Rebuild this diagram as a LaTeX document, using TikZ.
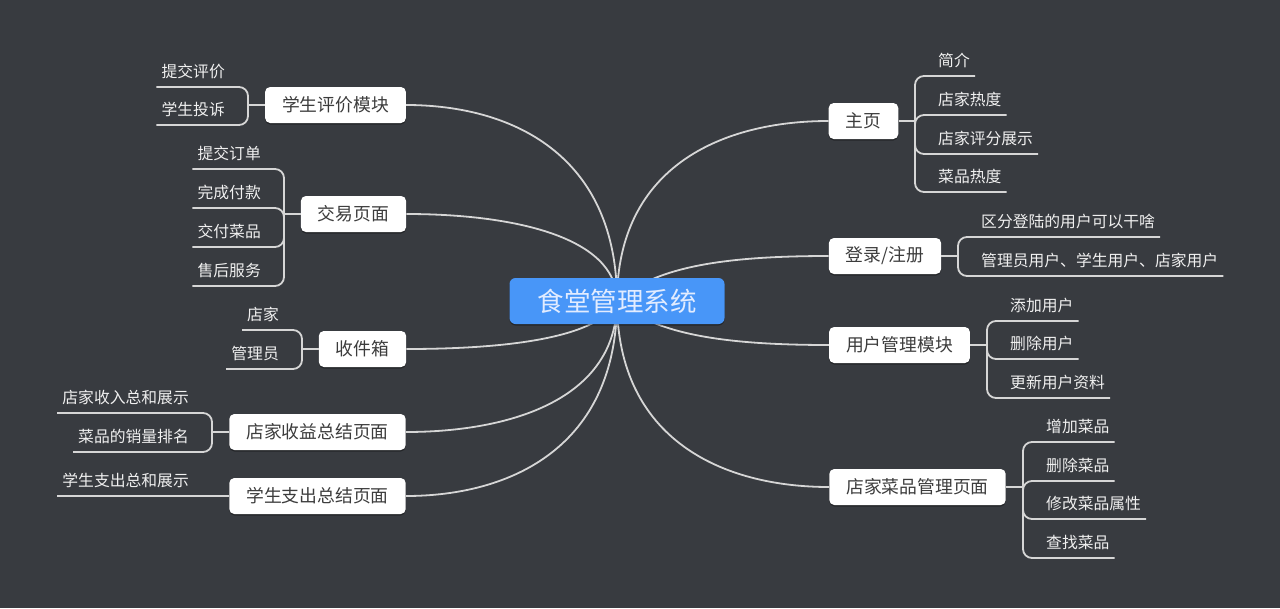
\documentclass[tikz,border=0pt]{standalone}
\usepackage{fontspec}
\newfontfamily\cjk{Noto Sans CJK SC}
\usetikzlibrary{shadows}
\definecolor{bgc}{RGB}{56,59,64}
\definecolor{linec}{RGB}{214,214,214}
\definecolor{ctrc}{RGB}{72,150,248}
\definecolor{ctrt}{RGB}{226,236,255}
\definecolor{topict}{RGB}{60,60,60}
\definecolor{leaft}{RGB}{240,240,240}
\newcommand\lffont{\cjk\fontsize{15.8}{18}\selectfont}
\newcommand\tpfont{\cjk\fontsize{17.8}{20}\selectfont}
\newcommand\ctfont{\cjk\fontsize{26.5}{30}\selectfont}
\pgfdeclarelayer{back}
\pgfdeclarelayer{lines}
\pgfsetlayers{back,lines,main}
\tikzset{
  ln/.style={draw=linec, line width=1.8pt},
  br/.style={ln, rounded corners=9pt},
  topic/.style={fill=white, rounded corners=5pt, minimum height=36pt, inner xsep=17pt, inner ysep=0pt,
    text=topict, font=\tpfont, drop shadow={shadow xshift=0pt, shadow yshift=-1.5pt, opacity=0.35, fill=black}},
  central/.style={fill=ctrc, rounded corners=6pt, minimum height=46pt, inner xsep=28pt, inner ysep=0pt,
    text=ctrt, font=\ctfont, drop shadow={shadow xshift=0pt, shadow yshift=-1.5pt, opacity=0.35, fill=black}},
  leafR/.style={anchor=south west, inner xsep=5pt, inner ysep=0pt, text height=12pt, text depth=9pt, text=leaft, font=\lffont},
  leafL/.style={leafR, anchor=south east},
}
\begin{document}
\begin{tikzpicture}[x=1pt,y=-1pt]
\begin{pgfonlayer}{back}
\fill[bgc] (0,0) rectangle (1280,608);
\end{pgfonlayer}
\useasboundingbox (0,0) rectangle (1280,608);

% central
\node[central] (ctr) at (617,301) {食堂管理系统};
\coordinate (c) at (617,301);

% topics right
\node[topic] (zy) at (863.5,121) {主页};
\node[topic] (dl) at (885,256) {登录/注册};
\node[topic] (yh) at (899.5,345) {用户管理模块};
\node[topic] (cp) at (917.5,487) {店家菜品管理页面};
% topics left
\node[topic] (pj) at (335.5,105) {学生评价模块};
\node[topic] (jy) at (353.5,214) {交易页面};
\node[topic] (sj) at (362.5,349) {收件箱};
\node[topic] (sy) at (317.5,432) {店家收益总结页面};
\node[topic] (zc) at (317.5,496) {学生支出总结页面};

% leaves right
\node[leafR] (a1) at (933,76) {简介};
\node[leafR] (a2) at (933,115) {店家热度};
\node[leafR] (a3) at (933,154) {店家评分展示};
\node[leafR] (a4) at (933,192) {菜品热度};
\node[leafR] (b1) at (976,237) {区分登陆的用户可以干啥};
\node[leafR] (b2) at (976,276) {管理员用户、学生用户、店家用户};
\node[leafR] (d1) at (1005,321) {添加用户};
\node[leafR] (d2) at (1005,359) {删除用户};
\node[leafR] (d3) at (1005,398) {更新用户资料};
\node[leafR] (e1) at (1041,442) {增加菜品};
\node[leafR] (e2) at (1041,481) {删除菜品};
\node[leafR] (e3) at (1041,519) {修改菜品属性};
\node[leafR] (e4) at (1041,558) {查找菜品};
% leaves left
\node[leafL] (f1) at (230,87) {提交评价};
\node[leafL] (f2) at (230,125) {学生投诉};
\node[leafL] (g1) at (266,169) {提交订单};
\node[leafL] (g2) at (266,208) {完成付款};
\node[leafL] (g3) at (266,247) {交付菜品};
\node[leafL] (g4) at (266,286) {售后服务};
\node[leafL] (h1) at (284,330) {店家};
\node[leafL] (h2) at (284,369) {管理员};
\node[leafL] (k1) at (194,413) {店家收入总和展示};
\node[leafL] (k2) at (194,452) {菜品的销量排名};
\node[leafL] (m1) at (194,496) {学生支出总和展示};

\begin{pgfonlayer}{lines}
% main curves
\draw[ln] (c) .. controls (617,166) and (723,121) .. (zy.west);
\draw[ln] (c) .. controls (655,267) and (723,256) .. (dl.west);
\draw[ln] (c) .. controls (655,334) and (723,345) .. (yh.west);
\draw[ln] (c) .. controls (617,440) and (723,487) .. (cp.west);
\draw[ln] (c) .. controls (617,154) and (511,105) .. (pj.east);
\draw[ln] (c) .. controls (617,236) and (511,214) .. (jy.east);
\draw[ln] (c) .. controls (600,337) and (511,349) .. (sj.east);
\draw[ln] (c) .. controls (617,399) and (511,432) .. (sy.east);
\draw[ln] (c) .. controls (617,447) and (511,496) .. (zc.east);

% brackets right
\coordinate (zyb) at (915,121);
\draw[ln] (zy.east) -- (zyb);
\foreach \l in {a1,a2,a3,a4} \draw[br] (zyb) |- (\l.south east);
\coordinate (dlb) at (958,256);
\draw[ln] (dl.east) -- (dlb);
\foreach \l in {b1,b2} \draw[br] (dlb) |- (\l.south east);
\coordinate (yhb) at (987,345);
\draw[ln] (yh.east) -- (yhb);
\foreach \l in {d1,d2,d3} \draw[br] (yhb) |- (\l.south east);
\coordinate (cpb) at (1023,487);
\draw[ln] (cp.east) -- (cpb);
\foreach \l in {e1,e2,e3,e4} \draw[br] (cpb) |- (\l.south east);
% brackets left
\coordinate (pjb) at (248,105);
\draw[ln] (pj.west) -- (pjb);
\foreach \l in {f1,f2} \draw[br] (pjb) |- (\l.south west);
\coordinate (jyb) at (284,214);
\draw[ln] (jy.west) -- (jyb);
\foreach \l in {g1,g2,g3,g4} \draw[br] (jyb) |- (\l.south west);
\coordinate (sjb) at (302,349);
\draw[ln] (sj.west) -- (sjb);
\foreach \l in {h1,h2} \draw[br] (sjb) |- (\l.south west);
\coordinate (syb) at (212,432);
\draw[ln] (sy.west) -- (syb);
\foreach \l in {k1,k2} \draw[br] (syb) |- (\l.south west);
\draw[ln] (zc.west) -- (m1.south west);
\end{pgfonlayer}
\end{tikzpicture}
\end{document}
